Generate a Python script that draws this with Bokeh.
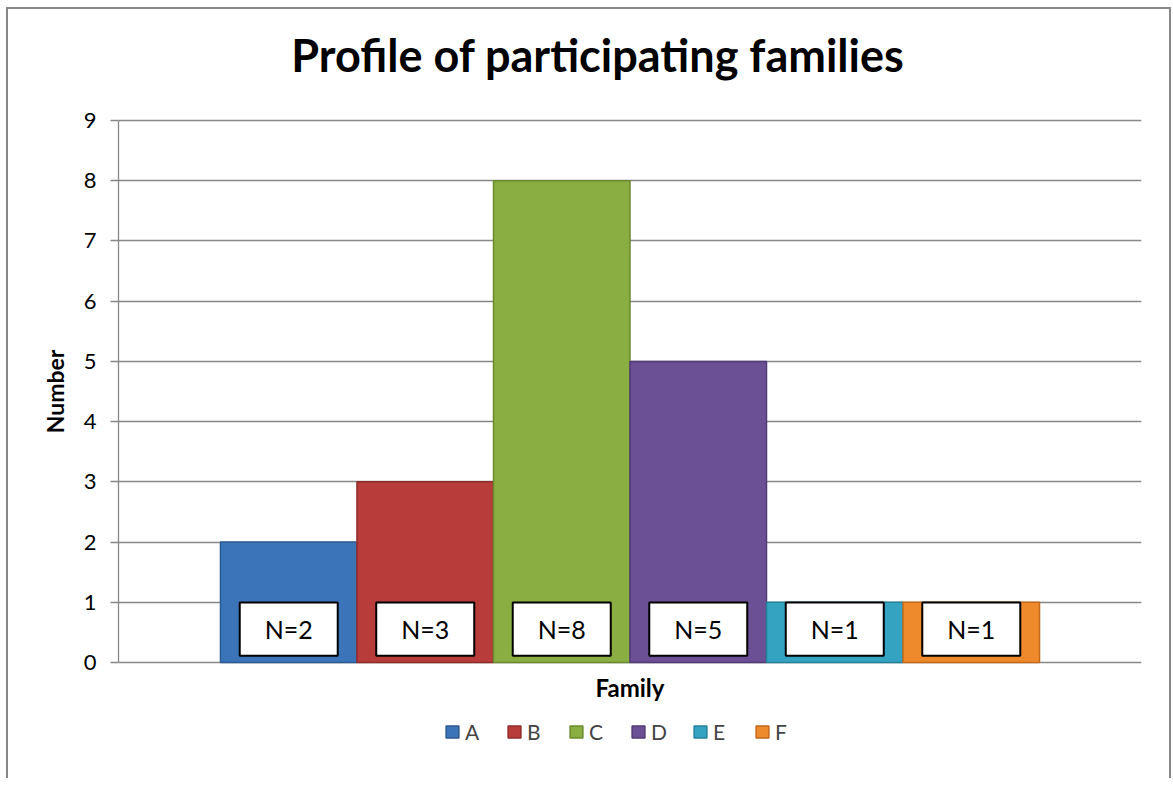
from bokeh.plotting import figure
from bokeh.models import FactorRange, Range1d, Legend, LegendItem, ColumnDataSource, FixedTicker, Label
from bokeh.core.properties import value
from bokeh.embed import file_html
from bokeh.resources import INLINE

families = ["A", "B", "C", "D", "E", "F"]
counts = [2, 3, 8, 5, 1, 1]
labels = ["N=2", "N=3", "N=8", "N=5", "N=1", "N=1"]
y_ticks = [0, 1, 2, 3, 4, 5, 6, 7, 8, 9]
colors = ["#3b74b8", "#b83c3a", "#8aae41", "#6c5096", "#34a3c1", "#ee8a2c"]
edge_colors = ["#2c5a92", "#8f2c2a", "#6a8a2e", "#523a76", "#25819a", "#c46a1a"]

FONT = "Lato"
GREY = "#878787"
EXTRA = 1.793  # room (in value units) above and below the 0-9 scale for title, x title and legend

src = ColumnDataSource(dict(fam=families, n=counts, lab=labels, col=colors, edge=edge_colors))

p = figure(
    x_range=FactorRange(factors=families, range_padding=0.249),
    y_range=Range1d(y_ticks[0] - EXTRA, y_ticks[-1] + EXTRA),
    frame_width=1023, frame_height=758,
    min_border_left=110, min_border_right=28, min_border_top=3, min_border_bottom=8,
    output_backend="svg", toolbar_location=None,
)
p.styles = {"border-top": "2px solid #878787", "border-left": "2px solid #878787",
            "border-right": "2px solid #878787", "margin-left": "6px", "margin-top": "7px"}

p.outline_line_color = None
p.background_fill_color = "white"
p.border_fill_color = "white"

p.xgrid.grid_line_color = None
p.ygrid.grid_line_color = GREY
p.ygrid.grid_line_width = 1.3
p.ygrid.ticker = FixedTicker(ticks=y_ticks)

p.yaxis.ticker = FixedTicker(ticks=y_ticks)
p.yaxis.bounds = (y_ticks[0], y_ticks[-1])
p.yaxis.axis_line_color = GREY
p.yaxis.axis_line_width = 1.3
p.yaxis.major_tick_line_color = GREY
p.yaxis.major_tick_line_width = 1.3
p.yaxis.major_tick_out = 8
p.yaxis.major_tick_in = 0
p.yaxis.minor_tick_line_color = None
p.yaxis.major_label_text_font = FONT
p.yaxis.major_label_text_font_size = "22px"
p.yaxis.major_label_text_color = "black"
p.yaxis.major_label_standoff = 14
p.yaxis.axis_label = "Number"
p.yaxis.axis_label_text_font = FONT
p.yaxis.axis_label_text_font_size = "23px"
p.yaxis.axis_label_text_font_style = "bold"
p.yaxis.axis_label_text_color = "black"
p.yaxis.axis_label_standoff = 12

p.xaxis.visible = False

bars = p.vbar(x="fam", top="n", width=1.0, source=src, fill_color="col",
              line_color="edge", line_width=1.5)

p.rect(x="fam", y=0.555, width=98, height=0.885, width_units="screen", source=src,
       fill_color="white", line_color="black", line_width=2)
p.text(x="fam", y=0.555, text="lab", source=src, text_font=value(FONT),
       text_font_size="25px", text_align="center", text_baseline="middle", text_color="black")

title = Label(x=len(families) / 2, x_offset=-32, y=y_ticks[-1] + 1.08,
              text="Profile of participating families", text_font=FONT, text_font_size="45px",
              text_font_style="bold", text_color="black", text_align="center",
              text_baseline="middle")
p.add_layout(title)

xtitle = Label(x=len(families) / 2, y=-0.42, text="Family", text_font=FONT, text_font_size="24px",
               text_font_style="bold", text_color="black", text_align="center",
               text_baseline="middle")
p.add_layout(xtitle)

items = [LegendItem(label=f, renderers=[bars], index=i) for i, f in enumerate(families)]
legend = Legend(items=items, orientation="horizontal", location=(326, 26),
                glyph_width=16, glyph_height=15, label_standoff=5, spacing=21,
                label_text_font=FONT, label_text_font_size="21px",
                border_line_color=None, background_fill_alpha=0, padding=0, margin=0)
p.add_layout(legend)

open("out.html", "w").write(file_html(p, INLINE))
